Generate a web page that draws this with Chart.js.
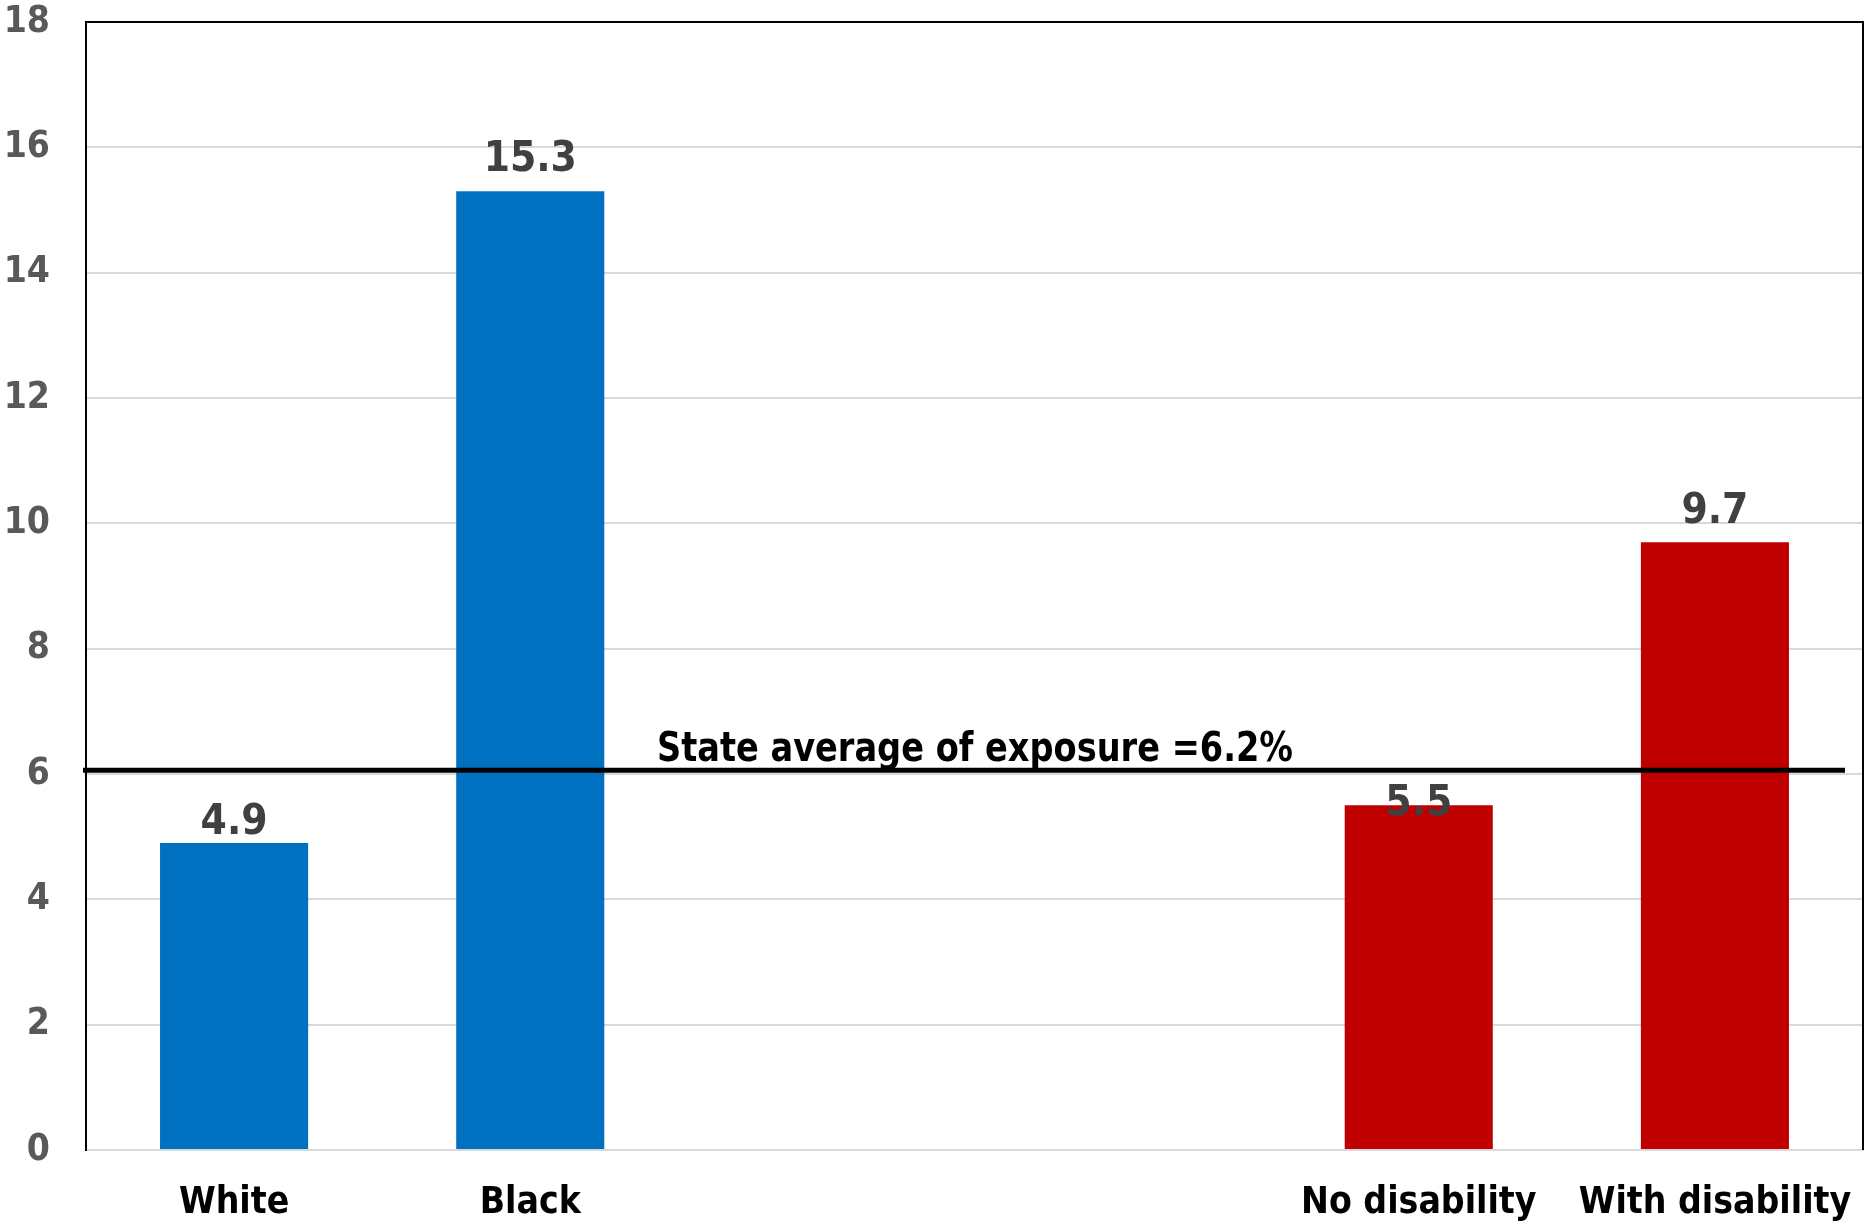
<!DOCTYPE html>
<html>
<head>
<meta charset="utf-8">
<script src="https://cdn.jsdelivr.net/npm/chart.js@4.4.1/dist/chart.umd.min.js"></script>
<style>
	html, body { margin: 0; padding: 0; background: #ffffff; }
	#wrap { width: 1874px; height: 1225px; }
</style>
</head>
<body>
<div id="wrap"><canvas id="chart" width="1874" height="1225"></canvas></div>
<script>
// the two empty slots keep the gap between the race and disability groups
let categories = ["White", "Black", "", "", "No disability", "With disability"];
let values = [4.9, 15.3, null, null, 5.5, 9.7];
let barColors = ["#0070C0", "#0070C0", "#0070C0", "#0070C0", "#C00000", "#C00000"];
let yTicks = [0, 2, 4, 6, 8, 10, 12, 14, 16, 18];
let averageText = "State average of exposure =6.2%";
let averageLine = 6.06; // where the line sits in the picture

// how far above the bar top each value label sits (px)
let labelLift = [20, 31, 0, 0, 1, 30];

let fontFamily = "'DejaVu Sans Condensed', 'DejaVu Sans', sans-serif";

let overlay = {
	id: "overlay",
	afterDatasetsDraw(chart){
		let ctx = chart.ctx;
		let area = chart.chartArea;
		let y = chart.scales.y;
		let meta = chart.getDatasetMeta(0);

		ctx.save();
		// top and right frame
		ctx.strokeStyle = "#000000";
		ctx.lineWidth = 2;
		ctx.beginPath();
		ctx.moveTo(area.left, area.top);
		ctx.lineTo(area.right, area.top);
		ctx.lineTo(area.right, area.bottom);
		ctx.stroke();

		// state average line
		let ly = y.getPixelForValue(averageLine);
		ctx.lineWidth = 5;
		ctx.beginPath();
		ctx.moveTo(area.left - 3, ly);
		ctx.lineTo(area.right - 18, ly);
		ctx.stroke();

		ctx.font = "bold 41px " + fontFamily;
		ctx.fillStyle = "#000000";
		ctx.textBaseline = "alphabetic";
		ctx.textAlign = "left";
		let w = ctx.measureText(averageText).width;
		let sx = 636 / w;
		ctx.save();
		ctx.translate(657, ly - 9);
		ctx.scale(sx, 1);
		ctx.fillText(averageText, 0, 0);
		ctx.restore();

		// value labels
		ctx.font = "bold 42px " + fontFamily;
		ctx.fillStyle = "#404040";
		ctx.textAlign = "center";
		ctx.textBaseline = "middle";
		for(let i = 0; i < values.length; i++){
			if(values[i] == null)continue;
			let bar = meta.data[i];
			ctx.fillText(values[i].toFixed(1), bar.x, bar.y - labelLift[i]);
		}
		ctx.restore();
	}
};

let ctx = document.getElementById("chart").getContext("2d");
let chart = new Chart(ctx, {
	type: "bar",
	data: {
		labels: categories,
		datasets: [{
			data: values,
			backgroundColor: barColors,
			borderWidth: 0,
			categoryPercentage: 1,
			barPercentage: 0.5
		}]
	},
	options: {
		responsive: false,
		animation: false,
		layout: { padding: { top: 22, right: 11, left: 0, bottom: 0 } },
		plugins: {
			legend: { display: false },
			tooltip: { enabled: false }
		},
		scales: {
			x: {
				grid: { display: false, drawTicks: false },
				border: { display: true, color: "#d9d9d9", width: 2 },
				ticks: {
					color: "#000000",
					padding: 31,
					maxRotation: 0,
					autoSkip: false,
					font: { family: fontFamily, size: 37, weight: "bold" }
				},
				afterFit(scale){
					scale.height = 75;
					scale.paddingLeft = 0;
					scale.paddingRight = 0;
				}
			},
			y: {
				min: 0,
				max: 18,
				afterBuildTicks(scale){
					scale.ticks = yTicks.map(v => ({ value: v }));
				},
				grid: { color: "#d9d9d9", lineWidth: 2, drawTicks: false },
				border: { display: true, color: "#000000", width: 2 },
				ticks: {
					color: "#595959",
					padding: 36,
					font: { family: fontFamily, size: 37, weight: "bold" }
				},
				afterFit(scale){
					scale.width = 86;
					// tick padding would otherwise push the plot top down
					scale.paddingTop = 0;
					scale.paddingBottom = 0;
				}
			}
		}
	},
	plugins: [overlay]
});
</script>
</body>
</html>
